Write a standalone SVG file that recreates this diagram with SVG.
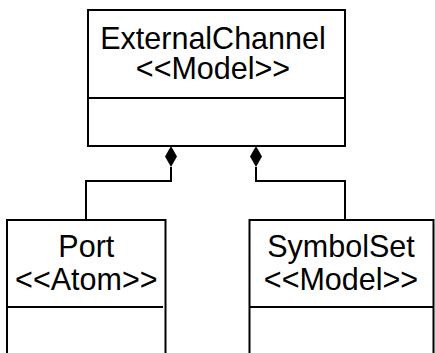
<svg xmlns="http://www.w3.org/2000/svg" width="435" height="353" viewBox="0 0 435 353">
<style>
.box{fill:#fff;stroke:#000;stroke-width:2}
.div{stroke:#000;stroke-width:2}
.t{font-family:"Liberation Sans",Arial,sans-serif;font-size:30.5px;fill:#000;text-anchor:middle}
.c{fill:none;stroke:#000;stroke-width:2}
</style>
<rect width="435" height="353" fill="#fff"/>
<g id="connectors">
<polyline class="c" points="171,167 171,181 86,181 86,220"/>
<path d="M171,146 L177,156.5 L171,167 L165,156.5 Z" fill="#000"/>
<polyline class="c" points="256,167 256,181 345,181 345,220"/>
<path d="M256,146 L262,156.5 L256,167 L250,156.5 Z" fill="#000"/>
</g>
<g id="ExternalChannel">
<rect class="box" x="88" y="10" width="257" height="136"/>
<line class="div" x1="88" y1="98" x2="345" y2="98"/>
<text class="t" x="213" y="49">ExternalChannel</text>
<text class="t" x="213" y="79">&lt;&lt;Model&gt;&gt;</text>
</g>
<g id="Port">
<rect class="box" x="7" y="220" width="158.5" height="150"/>
<line class="div" x1="7" y1="307" x2="163" y2="307"/>
<text class="t" x="86.3" y="257">Port</text>
<text class="t" x="86.3" y="290">&lt;&lt;Atom&gt;&gt;</text>
</g>
<g id="SymbolSet">
<rect class="box" x="249.5" y="220" width="184" height="150"/>
<line class="div" x1="249.5" y1="307" x2="433.5" y2="307"/>
<text class="t" x="341" y="257">SymbolSet</text>
<text class="t" x="341" y="290">&lt;&lt;Model&gt;&gt;</text>
</g>
</svg>
